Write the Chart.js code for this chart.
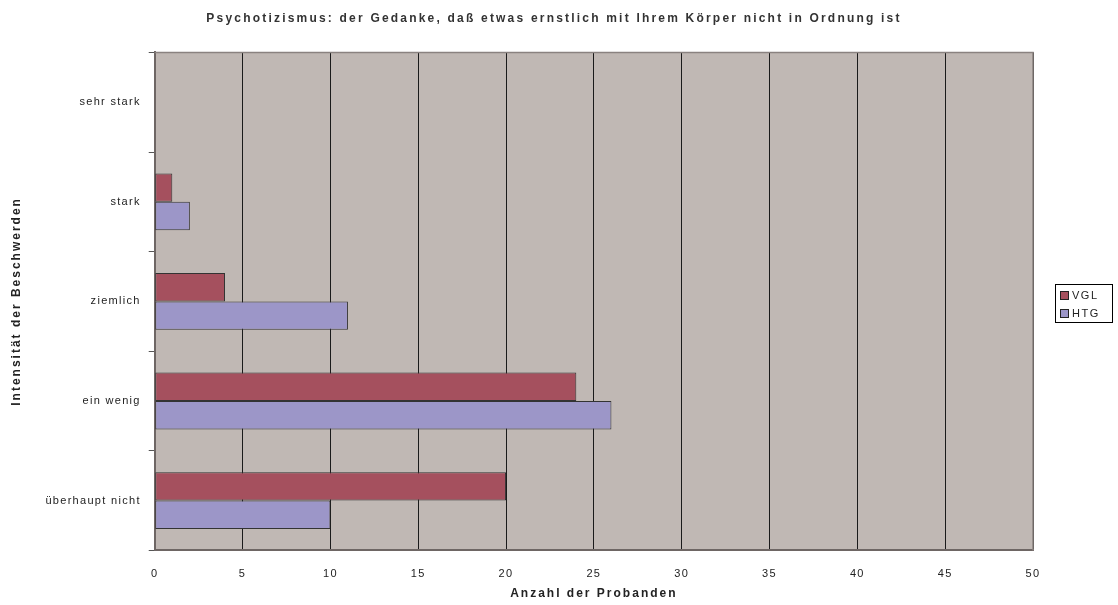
<!DOCTYPE html>
<html>
<head>
<meta charset="utf-8">
<script src="https://cdn.jsdelivr.net/npm/chart.js@4"></script>
<style>
  html, body { margin: 0; padding: 0; background: #fff; }
  #wrap { width: 1118px; height: 605px; }
</style>
</head>
<body>
<div id="wrap"><canvas id="chart"></canvas></div>
<script>
// Werte
const categories = ['sehr stark', 'stark', 'ziemlich', 'ein wenig', 'überhaupt nicht'];
const vgl = [0, 1, 4, 24, 20];
const htg = [0, 2, 11, 26, 10];
const seriesNames = ['VGL', 'HTG'];

const fontFamily = '"Liberation Sans", Arial, sans-serif';
const plotBg = '#c0b8b4';
const colVgl = '#a5505e';
const colHtg = '#9c96c8';

// Zeichenabstand wie im Original: normal 1.3px, fette Titel 2px
function withSpacing(obj, key, px, dx) {
    if (!obj || obj['_sp_' + key]) return;
    const orig = obj[key];
    obj[key] = function (...args) {
        const ctx = this.ctx;
        ctx.save();
        ctx.letterSpacing = px;
        if (dx) ctx.translate(dx, 0);
        const r = orig.apply(this, args);
        ctx.restore();
        return r;
    };
    obj['_sp_' + key] = true;
}

const spacing = {
    id: 'spacing',
    beforeLayout(chart) { chart.ctx.letterSpacing = '1.3px'; },
    afterLayout(chart) {
        withSpacing(chart.titleBlock, 'draw', '2.2px', 33);
        withSpacing(chart.scales.x, 'drawTitle', '2px');
        withSpacing(chart.scales.y, 'drawTitle', '2px');
    },
    beforeDraw(chart) { chart.ctx.letterSpacing = '1.3px'; }
};

const plotArea = {
    id: 'plotArea',
    beforeDraw(chart) {
        const { ctx, chartArea: a } = chart;
        ctx.save();
        ctx.fillStyle = plotBg;
        ctx.fillRect(a.left, a.top, a.right - a.left, a.bottom - a.top);
        ctx.restore();
    },
    afterDatasetsDraw(chart) {
        const { ctx, chartArea: a } = chart;
        ctx.save();
        ctx.strokeStyle = '#8a8280';
        ctx.lineWidth = 1.5;
        ctx.beginPath();
        ctx.moveTo(a.left, a.top);
        ctx.lineTo(a.right, a.top);
        ctx.lineTo(a.right, a.bottom);
        ctx.stroke();
        ctx.restore();
    }
};

// Legende mit Rahmen rechts
const boxLegend = {
    id: 'boxLegend',
    afterDraw(chart) {
        const ctx = chart.ctx;
        const x = 1055, y = 284, w = 57, h = 38;
        ctx.save();
        ctx.letterSpacing = '1.5px';
        ctx.strokeStyle = '#000';
        ctx.lineWidth = 1;
        ctx.strokeRect(x + 0.5, y + 0.5, w, h);
        ctx.font = '11px ' + fontFamily;
        ctx.textBaseline = 'middle';
        chart.data.datasets.forEach((ds, i) => {
            const yy = y + 11 + i * 18;
            ctx.fillStyle = ds.backgroundColor;
            ctx.fillRect(x + 5, yy - 4, 9, 9);
            ctx.strokeStyle = '#222';
            ctx.strokeRect(x + 5.5, yy - 3.5, 8, 8);
            ctx.fillStyle = '#222';
            ctx.fillText(ds.label, x + 17, yy + 1);
        });
        ctx.restore();
    }
};

new Chart(document.getElementById('chart'), {
    type: 'bar',
    data: {
        labels: categories,
        datasets: [{
            label: seriesNames[0],
            data: vgl,
            backgroundColor: colVgl,
            borderColor: '#333',
            borderWidth: 1,
            borderSkipped: false,
            barPercentage: 1,
            categoryPercentage: 0.57
        }, {
            label: seriesNames[1],
            data: htg,
            backgroundColor: colHtg,
            borderColor: '#333',
            borderWidth: 1,
            borderSkipped: false,
            barPercentage: 1,
            categoryPercentage: 0.57
        }]
    },
    options: {
        indexAxis: 'y',
        responsive: true,
        maintainAspectRatio: false,
        animation: false,
        layout: { padding: { left: 9, right: 85, top: 8, bottom: 4 } },
        plugins: {
            legend: { display: false },
            tooltip: { enabled: false },
            title: {
                display: true,
                text: 'Psychotizismus: der Gedanke, daß etwas ernstlich mit Ihrem Körper nicht in Ordnung ist',
                color: '#333',
                font: { family: fontFamily, size: 12, weight: 'bold' },
                padding: { top: 3, bottom: 27 }
            }
        },
        scales: {
            x: {
                min: 0,
                max: 50,
                ticks: {
                    stepSize: 5,
                    color: '#222',
                    padding: 17,
                    font: { family: fontFamily, size: 11 }
                },
                grid: {
                    color: '#1a1a1a',
                    lineWidth: 1,
                    drawTicks: false
                },
                border: { color: '#6e6664', width: 2 },
                title: {
                    display: true,
                    text: 'Anzahl der Probanden',
                    color: '#222',
                    font: { family: fontFamily, size: 12, weight: 'bold' },
                    padding: { top: -11, bottom: 0 }
                }
            },
            y: {
                ticks: {
                    color: '#222',
                    padding: 8,
                    font: { family: fontFamily, size: 11 }
                },
                grid: {
                    offset: true,
                    drawOnChartArea: false,
                    tickLength: 6,
                    color: '#555'
                },
                border: { color: '#6e6664', width: 2 },
                title: {
                    display: true,
                    text: 'Intensität der Beschwerden',
                    color: '#222',
                    font: { family: fontFamily, size: 12, weight: 'bold' },
                    padding: { top: 0, bottom: 14 }
                }
            }
        }
    },
    plugins: [spacing, plotArea, boxLegend]
});
</script>
</body>
</html>
